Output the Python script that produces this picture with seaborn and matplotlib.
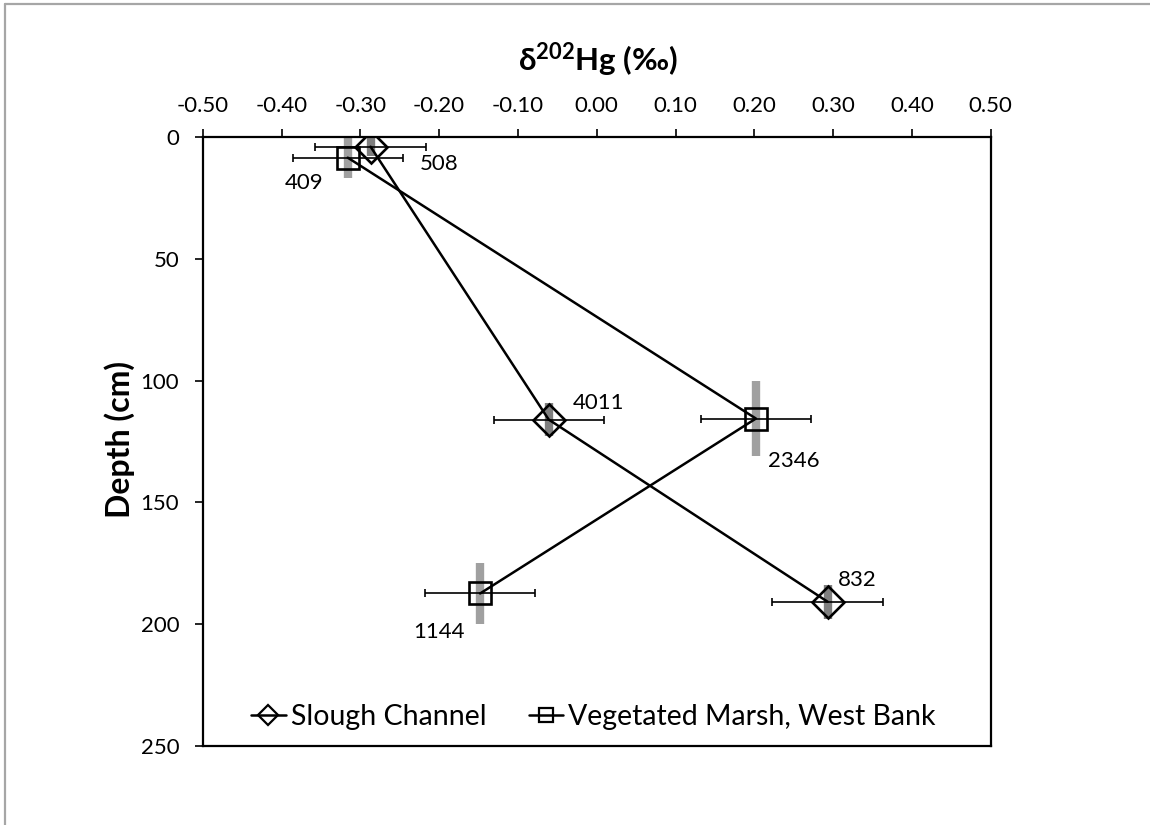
import matplotlib
matplotlib.use("Agg")
import matplotlib.pyplot as plt
from matplotlib.lines import Line2D
import numpy as np
import pandas as pd
import seaborn as sns

# Mercury isotope profiles by core depth
site_names = ["Slough Channel", "Vegetated Marsh, West Bank"]

slough_d202 = [-0.287, -0.061, 0.293]
slough_depth = [4.0, 116.0, 190.8]
slough_d202_err = [0.07, 0.07, 0.07]
slough_depth_err = [4.0, 6.7, 7.0]
slough_labels = ["508", "4011", "832"]

marsh_d202 = [-0.316, 0.202, -0.148]
marsh_depth = [8.5, 115.6, 187.4]
marsh_d202_err = [0.07, 0.07, 0.07]
marsh_depth_err = [8.5, 15.4, 12.6]
marsh_labels = ["409", "2346", "1144"]

x_ticks = [-0.50, -0.40, -0.30, -0.20, -0.10, 0.00, 0.10, 0.20, 0.30, 0.40, 0.50]
y_ticks = [0, 50, 100, 150, 200, 250]

sns.set_theme(style="white")
plt.rcParams["font.family"] = ["Lato", "DejaVu Sans"]
plt.rcParams["axes.unicode_minus"] = False
plt.rcParams["mathtext.fontset"] = "custom"
plt.rcParams["mathtext.bf"] = "Lato:bold"
plt.rcParams["mathtext.rm"] = "Lato"

df = pd.DataFrame({
    "d202": slough_d202 + marsh_d202,
    "depth": slough_depth + marsh_depth,
    "site": [site_names[0]] * len(slough_d202) + [site_names[1]] * len(marsh_d202),
})

fig = plt.figure(figsize=(11.5, 8.25), dpi=100)
ax = fig.add_axes([0.1763, 0.0958, 0.6852, 0.7382])

# depth ranges as thick grey bars, drawn underneath everything else
ax.errorbar(slough_d202, slough_depth, yerr=slough_depth_err, fmt="none",
            ecolor="#7f7f7f", elinewidth=6, capsize=0, zorder=1)
ax.errorbar(marsh_d202, marsh_depth, yerr=marsh_depth_err, fmt="none",
            ecolor="#a0a0a0", elinewidth=6, capsize=0, zorder=1)

sns.lineplot(data=df, x="d202", y="depth", hue="site", style="site",
             palette=["black", "black"], markers={site_names[0]: "D", site_names[1]: "s"},
             dashes=False, sort=False, estimator=None, legend=False,
             markersize=16.5, markerfacecolor="none", markeredgecolor="black",
             markeredgewidth=1.9, linewidth=1.8, ax=ax, zorder=3)
for ln in ax.lines:
    ln.set_markerfacecolor("none")

# analytical uncertainty on the isotope value
ax.errorbar(slough_d202, slough_depth, xerr=slough_d202_err, fmt="none",
            ecolor="black", elinewidth=1.2, capsize=2.6, capthick=1.2, zorder=2.5)
ax.errorbar(marsh_d202, marsh_depth, xerr=marsh_d202_err, fmt="none",
            ecolor="black", elinewidth=1.2, capsize=2.6, capthick=1.2, zorder=2.5)

# concentration annotations
slough_offsets = [(69, -17), (50, 17), (30, 22)]
marsh_offsets = [(-44, -25), (38, -42), (-41, -39)]
for xs, ys, labs, offs in [(slough_d202, slough_depth, slough_labels, slough_offsets),
                           (marsh_d202, marsh_depth, marsh_labels, marsh_offsets)]:
    for xv, yv, lab, off in zip(xs, ys, labs, offs):
        ax.annotate(lab, (xv, yv), xytext=off, textcoords="offset pixels",
                    ha="center", va="center", fontsize=16, color="black")

ax.set_xlim(-0.5, 0.5)
ax.set_ylim(250, 0)
ax.set_xticks(x_ticks)
ax.set_xticklabels([f"{v:.2f}" for v in x_ticks])
ax.set_yticks(y_ticks)
ax.set_yticklabels([str(v) for v in y_ticks])
ax.xaxis.tick_top()
ax.tick_params(axis="x", which="major", direction="out", length=6, width=1.2,
               color="black", labelsize=16, pad=9, top=True, bottom=False,
               labelcolor="black")
ax.tick_params(axis="y", which="major", direction="out", length=6, width=1.2,
               color="black", labelsize=16, pad=11, left=True, right=False,
               labelcolor="black")
ax.set_xlabel("")
ax.set_ylabel("")
for sp in ax.spines.values():
    sp.set_visible(True)
    sp.set_color("black")
    sp.set_linewidth(1.6)

fig.text(598 / 1150, 1 - 60 / 825, r"δ$^{\mathbf{202}}$Hg (‰)", ha="center", va="center",
         fontsize=22.5, fontweight="bold", color="black")
fig.text(120 / 1150, 1 - 440 / 825, "Depth (cm)", ha="center", va="center",
         rotation=90, fontsize=23, fontweight="bold", color="black")

handles = [
    Line2D([], [], color="black", lw=1.8, marker="D", markersize=10,
           markerfacecolor="none", markeredgecolor="black", markeredgewidth=1.6),
    Line2D([], [], color="black", lw=1.8, marker="s", markersize=10,
           markerfacecolor="none", markeredgecolor="black", markeredgewidth=1.6),
]
ax.legend(handles, site_names, loc="center", bbox_to_anchor=(0.496, 0.048), ncol=2,
          frameon=False, fontsize=20.5, handlelength=1.2, handletextpad=0.18,
          columnspacing=1.5, labelcolor="black")

# chart-area border
fig.add_artist(Line2D([5 / 1150, 5 / 1150], [0, 1 - 4 / 825], transform=fig.transFigure,
                      color="#a6a6a6", lw=1.6))
fig.add_artist(Line2D([5 / 1150, 1], [1 - 4 / 825, 1 - 4 / 825], transform=fig.transFigure,
                      color="#a6a6a6", lw=1.6))

fig.savefig("out.png", dpi=100, facecolor="white")
